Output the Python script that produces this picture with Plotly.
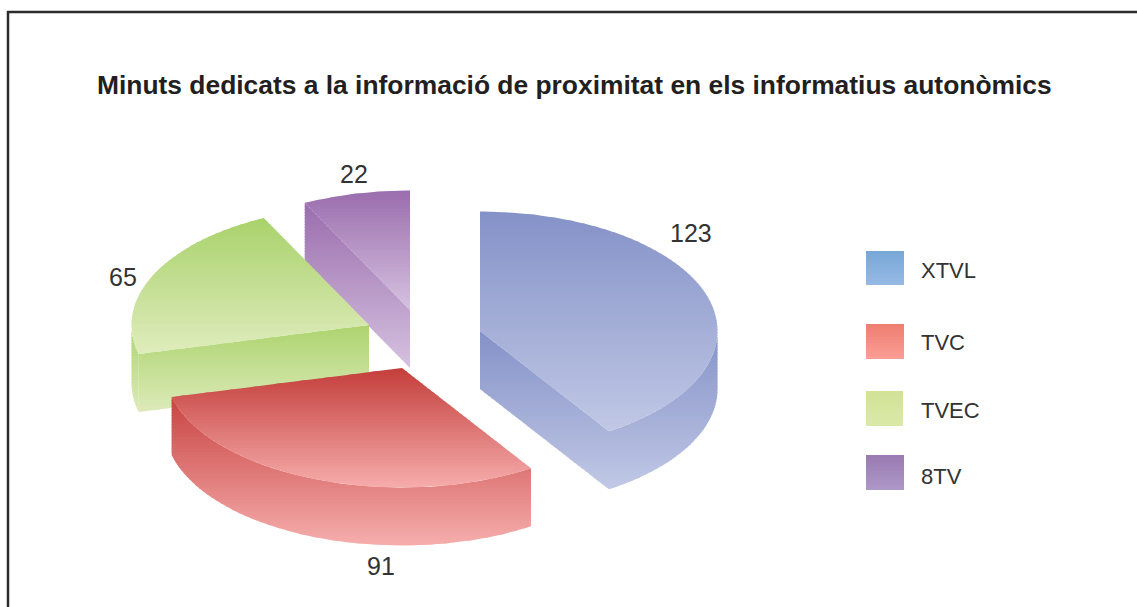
import math
import plotly.graph_objects as go

# --- data ---
categories = ["XTVL", "TVC", "TVEC", "8TV"]
values = [123, 91, 65, 22]
title = "Minuts dedicats a la informació de proximitat en els informatius autonòmics"

# --- layout constants (page pixels) ---
W, H = 1137, 607
RX, RY, DEPTH = 237.5, 119.5, 58
apex = [(480, 331), (402, 368), (369, 325), (410, 310)]
label_xy = [(691, 233), (381, 566), (123, 277), (354, 174)]
top_cols = [("#8592C8", "#C0C8E5"), ("#C43F3C", "#F5ABAA"), ("#A9D26C", "#DFECBC"), ("#9B6EAE", "#D5C1DF")]
side_cols = [("#8592C8", "#C0C8E5"), ("#C84442", "#F5ADAC"), ("#ADD470", "#DCEAB8"), ("#9B6EAE", "#D5C1DF")]
leg_cols = [("#78A8D8", "#95B9E3"), ("#EF7F72", "#F99D95"), ("#D2E296", "#DBE9A8"), ("#9A7BB2", "#AD97C7")]
leg_box = [(866, 904, 251, 285), (866, 904, 324, 359), (866, 903, 391, 426), (866, 904, 455, 490)]
leg_text_y = [270, 342, 410, 476]
label_font = dict(family="Liberation Sans", size=25, color="#333333")
legend_font = dict(family="Liberation Sans", size=22, color="#333333")


def hex2rgb(h):
    return [int(h[i:i + 2], 16) for i in (1, 3, 5)]


def clip(poly, yc, keep_below):
    """Keep the part of a polygon with y >= yc (keep_below) or y <= yc."""
    inside = (lambda p: p[1] >= yc) if keep_below else (lambda p: p[1] <= yc)
    out = []
    for i, p in enumerate(poly):
        q = poly[(i + 1) % len(poly)]
        pin, qin = inside(p), inside(q)
        if pin:
            out.append(p)
        if pin != qin:
            t = (yc - p[1]) / (q[1] - p[1])
            out.append((p[0] + t * (q[0] - p[0]), yc))
    return out


def gradient_traces(poly, c0, c1, step=3.0):
    ys = [p[1] for p in poly]
    y0, y1 = min(ys), max(ys)
    a, b = hex2rgb(c0), hex2rgb(c1)
    n = max(1, int((y1 - y0) / step))
    traces = []
    for k in range(n):
        ya = y0 + (y1 - y0) * k / n
        yb = y0 + (y1 - y0) * (k + 1) / n + 1.0  # slight overlap hides seams
        t = k / max(1, n - 1)
        col = "rgb(%d,%d,%d)" % tuple(round(a[i] + t * (b[i] - a[i])) for i in range(3))
        part = clip(poly, ya, True)
        if len(part) >= 3:
            part = clip(part, yb, False)
        if len(part) < 3:
            continue
        traces.append(go.Scatter(
            x=[p[0] for p in part] + [part[0][0]],
            y=[p[1] for p in part] + [part[0][1]],
            mode="lines", fill="toself", fillcolor=col,
            line=dict(width=0, color=col), hoverinfo="skip", showlegend=False))
    return traces


def pt(c, ang, dy=0.0):
    r = math.radians(ang)
    return (c[0] + RX * math.sin(r), c[1] - RY * math.cos(r) + dy)


def arc(c, a0, a1, dy=0.0):
    n = max(2, int(abs(a1 - a0)) + 1)
    return [pt(c, a0 + (a1 - a0) * i / n, dy) for i in range(n + 1)]


fig = go.Figure()

# slice angles from the values, clockwise from 12 o'clock
total = sum(values)
angles = []
acc = 0.0
for v in values:
    angles.append((acc, acc + v / total * 360))
    acc += v / total * 360

for idx in [3, 2, 0, 1]:  # painter's order
    c = apex[idx]
    a0, a1 = angles[idx]
    sides = []
    for a, visible in ((a0, math.sin(math.radians(a0)) < -1e-6), (a1, math.sin(math.radians(a1)) > 1e-6)):
        if visible:
            e = pt(c, a)
            sides.append([c, e, (e[0], e[1] + DEPTH), (c[0], c[1] + DEPTH)])
    r0, r1 = max(a0, 90), min(a1, 270)
    if r1 > r0:
        sides.append(arc(c, r0, r1) + arc(c, r1, r0, DEPTH))
    for poly in sides:
        for tr in gradient_traces(poly, *side_cols[idx]):
            fig.add_trace(tr)
    for tr in gradient_traces([c] + arc(c, a0, a1), *top_cols[idx]):
        fig.add_trace(tr)

annotations = [dict(x=574, y=85, text="<b>%s</b>" % title, showarrow=False,
                    font=dict(family="Liberation Sans", size=26.4, color="#231f20"),
                    xanchor="center", yanchor="middle")]
for v, (x, y) in zip(values, label_xy):
    annotations.append(dict(x=x, y=y, text=str(v), showarrow=False, font=label_font,
                            xanchor="center", yanchor="middle"))

for name, box, cols, ty in zip(categories, leg_box, leg_cols, leg_text_y):
    x0, x1, y0, y1 = box
    for tr in gradient_traces([(x0, y0), (x1, y0), (x1, y1), (x0, y1)], *cols):
        fig.add_trace(tr)
    annotations.append(dict(x=919, y=ty, text=name, showarrow=False, font=legend_font,
                            xanchor="left", yanchor="middle"))

fig.update_layout(
    width=W, height=H, margin=dict(l=0, r=0, t=0, b=0),
    paper_bgcolor="white", plot_bgcolor="white", showlegend=False,
    annotations=annotations,
    xaxis=dict(range=[0, W], visible=False, fixedrange=True),
    yaxis=dict(range=[H, 0], visible=False, fixedrange=True),
    shapes=[
        dict(type="line", x0=8, x1=8, y0=11, y1=H, line=dict(color="#2b2b2b", width=2.5)),
        dict(type="line", x0=7, x1=W, y0=12, y1=12, line=dict(color="#2b2b2b", width=2.5)),
    ],
)
fig.write_html("out.html", config=dict(displayModeBar=False),
               post_script="document.body.style.margin='0';document.body.style.overflow='hidden';")
